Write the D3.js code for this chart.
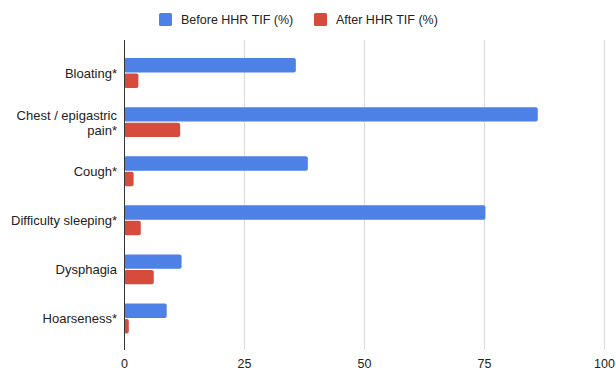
<!DOCTYPE html>
<html>
<head>
<meta charset="utf-8">
<script src="https://cdn.jsdelivr.net/npm/d3@7"></script>
<style>
  html, body { margin: 0; padding: 0; background: #fff; }
  svg { display: block; font-family: "Liberation Sans", Arial, sans-serif; }
</style>
</head>
<body>
<svg id="chart" width="616" height="370"></svg>
<script>
// Symptom categories (line breaks marked with \n)
const categories = ["Bloating*", "Chest / epigastric\npain*", "Cough*", "Difficulty sleeping*", "Dysphagia", "Hoarseness*"];
const seriesNames = ["Before HHR TIF (%)", "After HHR TIF (%)"];
const beforeValues = [35.8, 86.2, 38.3, 75.3, 12.0, 8.9];
const afterValues = [3.0, 11.7, 2.0, 3.5, 6.2, 1.0];
const xTicks = [0, 25, 50, 75, 100];
const colors = ["#4e81e6", "#d74b3c"];

const svg = d3.select("#chart");
const plot = { left: 124, right: 604, top: 40, bottom: 350 };

const x = d3.scaleLinear().domain([0, 100]).range([plot.left, plot.right]);
const y = d3.scaleBand().domain(categories).range([48.5, 343]).paddingInner(0.39).paddingOuter(0.195);
const ySub = d3.scaleBand().domain(seriesNames).range([0, y.bandwidth()]).paddingInner(0.07);

// vertical gridlines
svg.append("g").selectAll("line").data(xTicks.filter(d => d !== 0)).join("line")
  .attr("x1", d => x(d) + 0.5).attr("x2", d => x(d) + 0.5)
  .attr("y1", plot.top).attr("y2", plot.bottom)
  .attr("stroke", "#d9d9d9").attr("stroke-width", 1);

// bars
const rows = categories.map((c, i) => ({ cat: c, vals: [beforeValues[i], afterValues[i]] }));
const groups = svg.append("g").selectAll("g").data(rows).join("g")
  .attr("transform", d => `translate(0,${y(d.cat)})`);
groups.selectAll("rect").data(d => d.vals.map((v, j) => ({ v, s: seriesNames[j], j }))).join("rect")
  .attr("x", x(0))
  .attr("y", d => ySub(d.s))
  .attr("width", d => x(d.v) - x(0))
  .attr("height", ySub.bandwidth())
  .attr("rx", 2)
  .attr("fill", d => colors[d.j]);

// baseline axis
svg.append("line")
  .attr("x1", x(0) + 0.5).attr("x2", x(0) + 0.5)
  .attr("y1", plot.top).attr("y2", plot.bottom)
  .attr("stroke", "#333").attr("stroke-width", 1);

// x tick labels
const xAxis = d3.axisBottom(x).tickValues(xTicks).tickSize(0).tickPadding(0);
const xg = svg.append("g").attr("transform", `translate(0,${plot.bottom + 9})`).call(xAxis);
xg.select(".domain").remove();
xg.selectAll("text").attr("font-size", 12.5).attr("fill", "#222")
  .attr("font-family", "'Liberation Sans', Arial, sans-serif");

// category labels
const labels = svg.append("g").selectAll("text").data(categories).join("text")
  .attr("x", 117)
  .attr("text-anchor", "end")
  .attr("font-size", 13)
  .attr("fill", "#222")
  .attr("dominant-baseline", "central")
  .attr("y", d => y(d) + y.bandwidth() / 2);
labels.each(function(d) {
  const lines = d.split("\n");
  const t = d3.select(this);
  const lh = 15;
  lines.forEach((ln, k) => {
    t.append("tspan")
      .attr("x", 117)
      .attr("y", y(d) + y.bandwidth() / 2 + (k - (lines.length - 1) / 2) * lh)
      .text(ln);
  });
});

// legend
const legendItems = [
  { name: seriesNames[0], color: colors[0], x: 159 },
  { name: seriesNames[1], color: colors[1], x: 314 }
];
const lg = svg.append("g").selectAll("g").data(legendItems).join("g")
  .attr("transform", d => `translate(${d.x},13)`);
lg.append("rect").attr("width", 13).attr("height", 13).attr("rx", 1.5).attr("fill", d => d.color);
lg.append("text").attr("x", 22).attr("y", 6.5).attr("dominant-baseline", "central")
  .attr("font-size", 12.5).attr("fill", "#222").text(d => d.name);
</script>
</body>
</html>
